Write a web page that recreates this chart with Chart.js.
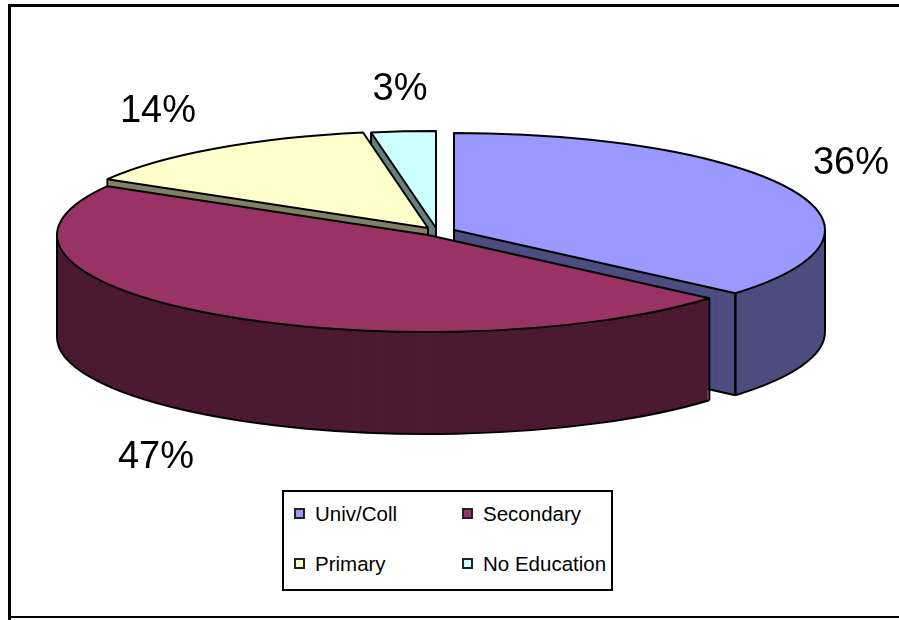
<!DOCTYPE html>
<html>
<head>
<meta charset="utf-8">
<title>Education</title>
<script src="https://cdn.jsdelivr.net/npm/chart.js@4/dist/chart.umd.min.js"></script>
<style>
  html, body { margin: 0; padding: 0; background: #fff; overflow: hidden; }
  #wrap { position: relative; width: 899px; height: 620px; font-family: "Liberation Sans", Arial, sans-serif; }
  #pie { position: absolute; left: 0; top: 0; }
  .frame { position: absolute; background: #000; }
  #legend { position: absolute; left: 282px; top: 490px; width: 327px; height: 97px; border: 2px solid #000; background: #fff; }
  .item { position: absolute; font-size: 20.5px; line-height: 24px; white-space: nowrap; color: #000; }
  .item i { position: absolute; left: -21px; top: 6px; width: 7px; height: 7px; border: 2px solid #222; }
</style>
</head>
<body>
<div id="wrap">
  <canvas id="pie" width="899" height="620"></canvas>
  <div class="frame" style="left:8px;top:4px;width:891px;height:3px"></div>
  <div class="frame" style="left:8px;top:4px;width:3px;height:616px"></div>
  <div class="frame" style="left:8px;top:616px;width:891px;height:2px"></div>
  <div id="legend"></div>
</div>
<script>
const categories = ['Univ/Coll', 'Secondary', 'Primary', 'No Education'];
const shares = [36.3, 47.1, 13.8, 2.8];
const topColors = ['#9999FF', '#993366', '#FFFFCC', '#CCFFFF'];
const wallColors = ['#4D4D80', '#4D1A33', '#808066', '#668080'];

// where things sit on the page
const labelSpots = [[851, 174], [156, 468], [158, 122], [400, 100]];
const legendSpots = [[31, 10], [199, 10], [31, 60], [199, 60]];
const explode = [[22, -2], [-4, 3], [-4, -4], [4, -4]];
const flatten = 97 / 371;
const depth = 102;

// walls first, then the top of each slice, back slices before front ones
const pie3d = {
  id: 'pie3d',
  beforeDatasetsDraw(chart) {
    const ctx = chart.ctx;
    const arcs = chart.getDatasetMeta(0).data;
    [3, 2, 0, 1].forEach(function(i) {
      const arc = arcs[i];
      const topOpts = arc.options;
      arc.options = Object.assign({}, topOpts, { backgroundColor: wallColors[i] });
      for (let d = depth; d > 0; d--) {
        drawFlat(ctx, arc, explode[i][0], explode[i][1] + d);
      }
      arc.options = topOpts;
      outlineWall(ctx, arc, i);
      drawFlat(ctx, arc, explode[i][0], explode[i][1]);
      outlineTop(ctx, arc, i);
    });
    return false;
  },
  afterDraw(chart) {
    const ctx = chart.ctx;
    const total = shares.reduce(function(a, b) { return a + b; }, 0);
    ctx.save();
    ctx.fillStyle = '#000';
    ctx.font = '38px "Liberation Sans", Arial, sans-serif';
    ctx.textAlign = 'center';
    ctx.textBaseline = 'alphabetic';
    shares.forEach(function(v, i) {
      ctx.fillText(Math.round(v / total * 100) + '%', labelSpots[i][0], labelSpots[i][1]);
    });
    ctx.restore();
  }
};

function drawFlat(ctx, arc, dx, dy) {
  ctx.save();
  ctx.translate(dx, arc.y + dy);
  ctx.scale(1, flatten);
  ctx.translate(0, -arc.y);
  arc.draw(ctx);
  ctx.restore();
}

function rimPoint(arc, angle, dx, dy) {
  return [arc.x + dx + Math.cos(angle) * arc.outerRadius,
          arc.y + dy + Math.sin(angle) * arc.outerRadius * flatten];
}

function line(ctx, a, b) {
  ctx.beginPath();
  ctx.moveTo(a[0], a[1]);
  ctx.lineTo(b[0], b[1]);
  ctx.stroke();
}

function outlineTop(ctx, arc, i) {
  const dx = explode[i][0], dy = explode[i][1];
  ctx.save();
  ctx.strokeStyle = '#000';
  ctx.lineWidth = 2;
  ctx.lineJoin = 'round';
  ctx.beginPath();
  ctx.moveTo(arc.x + dx, arc.y + dy);
  ctx.ellipse(arc.x + dx, arc.y + dy, arc.outerRadius, arc.outerRadius * flatten, 0, arc.startAngle, arc.endAngle);
  ctx.closePath();
  ctx.stroke();
  ctx.restore();
}

function outlineWall(ctx, arc, i) {
  const dx = explode[i][0], dy = explode[i][1];
  const r = arc.outerRadius;
  const apex = [arc.x + dx, arc.y + dy];
  const apexLow = [apex[0], apex[1] + depth];
  const twoPi = Math.PI * 2;
  ctx.save();
  ctx.strokeStyle = '#000';
  ctx.lineWidth = 2;

  // rim along the front half only
  const from = Math.max(arc.startAngle, 0);
  const to = Math.min(arc.endAngle, Math.PI);
  if (to > from) {
    ctx.beginPath();
    ctx.ellipse(apex[0], apexLow[1], r, r * flatten, 0, from, to);
    ctx.stroke();
    const a = rimPoint(arc, from, dx, dy), b = rimPoint(arc, to, dx, dy);
    line(ctx, a, [a[0], a[1] + depth]);
    line(ctx, b, [b[0], b[1] + depth]);
  }

  // cut faces that look towards the viewer
  [[arc.startAngle, -1], [arc.endAngle, 1]].forEach(function(face) {
    const angle = face[0] % twoPi;
    if (Math.cos(angle) * face[1] > 0.001) {
      const p = rimPoint(arc, angle, dx, dy);
      line(ctx, [p[0], p[1] + depth], apexLow);
      line(ctx, p, [p[0], p[1] + depth]);
      line(ctx, apex, apexLow);
    }
  });
  ctx.restore();
}

new Chart(document.getElementById('pie'), {
  type: 'pie',
  data: {
    labels: categories,
    datasets: [{
      data: shares,
      backgroundColor: topColors,
      borderWidth: 0,
      clip: 2000
    }]
  },
  options: {
    responsive: false,
    animation: false,
    radius: 371,
    events: [],
    layout: { padding: { right: 35, bottom: 156 } },
    plugins: {
      legend: { display: false },
      tooltip: { enabled: false }
    }
  },
  plugins: [pie3d]
});

// legend
const legendBox = document.getElementById('legend');
categories.forEach(function(name, i) {
  const item = document.createElement('div');
  item.className = 'item';
  item.style.left = legendSpots[i][0] + 'px';
  item.style.top = legendSpots[i][1] + 'px';
  item.innerHTML = '<i style="background:' + topColors[i] + '"></i>' + name;
  legendBox.appendChild(item);
});
</script>
</body>
</html>
